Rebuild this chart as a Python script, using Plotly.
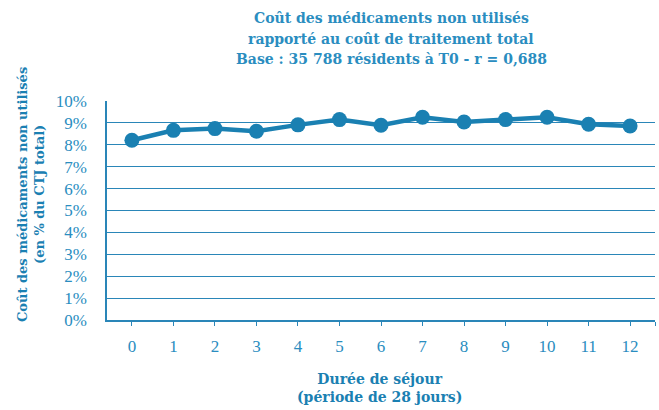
import plotly.graph_objects as go

periods = [0, 1, 2, 3, 4, 5, 6, 7, 8, 9, 10, 11, 12]
cost_share = [8.21, 8.66, 8.74, 8.62, 8.91, 9.15, 8.89, 9.26, 9.04, 9.15, 9.26, 8.94, 8.86]
y_ticks = list(range(0, 11))
y_tick_labels = [f"{v}%" for v in y_ticks]

title_lines = ["Coût des médicaments non utilisés",
               "rapporté au coût de traitement total",
               "Base : 35 788 résidents à T0 - r = 0,688"]
y_title = "Coût des médicaments non utilisés<br>(en % du CTJ total)"
x_title = "Durée de séjour<br>(période de 28 jours)"

MARK = "#1a80b2"
TEXT = "#2a8dc0"
GRID = "#2a86b8"
TFONT = "DejaVu Serif"

fig = go.Figure()
fig.add_trace(go.Scatter(
    x=periods, y=cost_share, mode="lines+markers",
    line=dict(color=MARK, width=4.5),
    marker=dict(color=MARK, size=15),
    showlegend=False, hoverinfo="skip",
))

W, H = 659, 410
L, R, T, B = 107, 4, 101, 90

fig.update_layout(
    width=W, height=H,
    margin=dict(l=L, r=R, t=T, b=B),
    paper_bgcolor="white", plot_bgcolor="white",
    font=dict(family="Liberation Serif", color=TEXT),
)
fig.update_xaxes(
    range=[-0.6, 12.6],
    tickvals=periods + [12.6], ticktext=[str(p) for p in periods] + [""],
    ticks="outside", ticklen=4, tickwidth=1, tickcolor=GRID,
    showgrid=False, zeroline=False,
    showline=True, linecolor=GRID, linewidth=1.5,
    tickfont=dict(family="Liberation Serif", size=17, color=TEXT),
    ticklabelstandoff=6,
)
fig.update_yaxes(
    range=[0, 10],
    tickvals=y_ticks, ticktext=y_tick_labels,
    showgrid=True, gridcolor=GRID, gridwidth=1.3,
    zeroline=False,
    showline=True, linecolor=GRID, linewidth=1.5,
    ticks="", tickfont=dict(family="Liberation Serif", size=17, color=TEXT),
    ticklabelstandoff=15,
)

annotations = []
for i, line in enumerate(title_lines):
    annotations.append(dict(
        text=f"<b>{line}</b>", xref="paper", yref="paper",
        x=(391 - L) / (W - L - R), y=1 + (T - (18 + 20.5 * i)) / (H - T - B),
        xanchor="center", yanchor="middle", showarrow=False,
        font=dict(family=TFONT, size=14, color=TEXT),
    ))
annotations.append(dict(
    text=f"<b>{y_title}</b>", xref="paper", yref="paper",
    x=-(L - 31) / (W - L - R), y=(H - B - 195) / (H - T - B),
    xanchor="center", yanchor="middle", textangle=-90, showarrow=False,
    font=dict(family=TFONT, size=13, color=MARK),
))
annotations.append(dict(
    text=f"<b>{x_title}</b>", xref="paper", yref="paper",
    x=(379 - L) / (W - L - R), y=-(388 - (H - B)) / (H - T - B),
    xanchor="center", yanchor="middle", showarrow=False,
    font=dict(family=TFONT, size=14, color=MARK),
))
fig.update_layout(annotations=annotations)

fig.write_html("out.html", config={"displayModeBar": False},
               post_script="document.body.style.margin='0';")
